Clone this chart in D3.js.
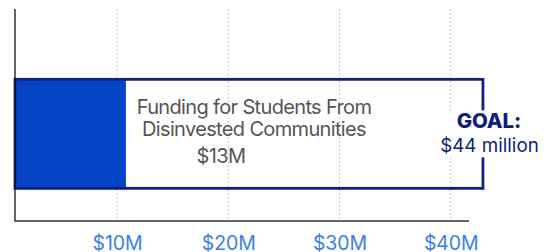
<!DOCTYPE html>
<html><head><meta charset="utf-8">
<script src="https://cdn.jsdelivr.net/npm/d3@7"></script>
<style>
html,body{margin:0;padding:0;background:#fff;}
svg{display:block;font-family:Inter, "Noto Sans", sans-serif;}
</style></head>
<body>
<svg id="chart" width="546" height="252"></svg>
<script>
// ---- data ----
const categories = ["Funding for Students From Disinvested Communities"];
const fundingLines = ["Funding for Students From", "Disinvested Communities"];
const raisedValues = [10.8];   // drawn extent of the filled bar, read against the axis
const raisedLabels = ["$13M"];
const goalValues = [42.9];     // drawn extent of the goal outline, read against the axis
const goalLabels = ["GOAL:", "$44 million"];
const tickValues = [10, 20, 30, 40];
const tickLabels = ["$10M", "$20M", "$30M", "$40M"];

// ---- layout ----
const W = 546, H = 252;
const plot = {left: 15, top: 9, bottom: 221, right: 469};
const svg = d3.select("#chart");

const x = d3.scaleLinear().domain([0, 40]).range([5.8, 450.7]);
const y = d3.scaleBand().domain(categories).range([plot.top, plot.bottom])
  .paddingInner(0).paddingOuter(0.4725).align(0.683);

// gridlines
svg.append("g").selectAll("line").data(tickValues).join("line")
  .attr("x1", d => x(d)).attr("x2", d => x(d))
  .attr("y1", plot.top).attr("y2", plot.bottom)
  .attr("stroke", "#c8c8c8").attr("stroke-width", 1).attr("stroke-dasharray", "2,2");

// filled bar
svg.append("g").selectAll("rect").data(categories).join("rect")
  .attr("x", plot.left).attr("y", d => y(d))
  .attr("width", (d, i) => x(raisedValues[i]) - plot.left)
  .attr("height", y.bandwidth())
  .attr("fill", "#0444c4");

// goal outline
svg.append("g").selectAll("rect").data(categories).join("rect")
  .attr("x", plot.left).attr("y", d => y(d))
  .attr("width", (d, i) => x(goalValues[i]) - plot.left)
  .attr("height", y.bandwidth())
  .attr("fill", "none").attr("stroke", "#0d2187").attr("stroke-width", 2.8);

// axes lines
svg.append("line").attr("x1", plot.left).attr("x2", plot.left)
  .attr("y1", plot.top).attr("y2", plot.bottom + 0.7)
  .attr("stroke", "#111").attr("stroke-width", 1.3);
const xAxis = d3.axisBottom(x).tickValues(tickValues)
  .tickFormat((d, i) => tickLabels[i]).tickSize(0).tickPadding(0);
const gx = svg.append("g").attr("transform", `translate(0,${plot.bottom})`).call(xAxis);
gx.select(".domain").remove();
gx.append("line").attr("x1", plot.left).attr("x2", plot.right)
  .attr("y1", 0).attr("y2", 0).attr("stroke", "#333").attr("stroke-width", 1.6);
gx.selectAll(".tick text")
  .attr("dy", null).attr("y", 28.5)
  .attr("font-family", "Inter, sans-serif").attr("font-size", 19.5)
  .attr("fill", "#3a7fe3").attr("letter-spacing", "-0.1px");

// funding label
const bandTop = y(categories[0]);
const lbl = svg.append("g").attr("fill", "#555").attr("font-size", 20)
  .attr("letter-spacing", "-0.65px");
lbl.selectAll("text.line").data(fundingLines).join("text").attr("class", "line")
  .attr("x", 254).attr("y", (d, i) => bandTop + 34.8 + i * 22)
  .attr("text-anchor", "middle").text(d => d);
lbl.append("text").attr("x", 221).attr("y", bandTop + 83.2)
  .attr("text-anchor", "middle").text(raisedLabels[0]);

// goal label with white background
const gxEnd = x(goalValues[0]);
svg.append("rect").attr("x", gxEnd - 44).attr("y", bandTop + 31)
  .attr("width", 100).attr("height", 47).attr("fill", "#fff");
svg.append("text").attr("x", gxEnd + 6).attr("y", bandTop + 48.5)
  .attr("text-anchor", "middle").attr("font-size", 20.5).attr("font-weight", 800)
  .attr("letter-spacing", "-0.1px").attr("fill", "#0d1f7a").text(goalLabels[0]);
svg.append("text").attr("x", gxEnd + 6.5).attr("y", bandTop + 72.5)
  .attr("text-anchor", "middle").attr("font-size", 18.8)
  .attr("fill", "#0d1f7a").text(goalLabels[1]);
</script>
</body></html>
